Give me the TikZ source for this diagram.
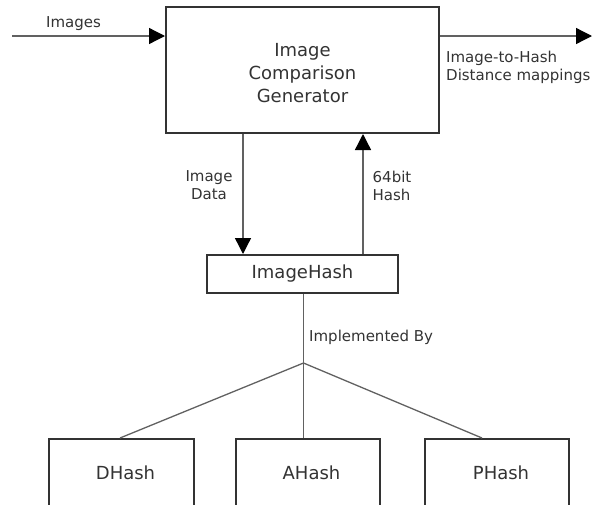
\documentclass[tikz,border=0pt]{standalone}
\usepackage{fontspec}
\setmainfont{DejaVu Sans}
\usetikzlibrary{arrows.meta}
\definecolor{boxline}{rgb}{0.2,0.2,0.2}
\definecolor{conncol}{rgb}{0.38,0.38,0.38}
\definecolor{txt}{rgb}{0.2,0.2,0.2}
\begin{document}
\begin{tikzpicture}[x=1pt,y=-1pt,
  blockbox/.style={draw=boxline, line width=2pt, inner sep=0pt, text=txt,
    font=\fontsize{18}{23}\selectfont, align=center},
  lbl/.style={inner sep=0pt, text=txt, font=\fontsize{15}{18.5}\selectfont},
  link/.style={draw=conncol, line width=1.3pt},
  flow/.style={link, -{Triangle[length=16pt,width=16pt,color=black]}}]
\useasboundingbox (0,0) rectangle (592,504);
\clip (0,0) rectangle (592,504);

% boxes
\node[blockbox, minimum width=273pt, minimum height=126pt] (gen) at (302.5,70)
  {\rule{0pt}{19.1pt}Image\\Comparison\\Generator};
\node[blockbox, minimum width=191pt, minimum height=38pt] (hash) at (302.5,274) {ImageHash};
\node[blockbox, minimum width=145pt, minimum height=67pt] (dh) at (121.5,472.5) {\hspace*{8pt}DHash};
\node[blockbox, minimum width=144pt, minimum height=67pt] (ah) at (308,472.5) {\hspace*{7pt}AHash};
\node[blockbox, minimum width=144pt, minimum height=67pt] (ph) at (497,472.5) {\hspace*{8pt}PHash};

% helper coordinates
\coordinate (inL) at (12,36);
\coordinate (outR) at (592,36);
\coordinate (downx) at (243,0);
\coordinate (upx) at (363,0);
\coordinate (j) at (303.5,363);
\coordinate (dj) at (120,0);
\coordinate (pj) at (482,0);

% connectors
\draw[flow] (inL) -- (inL -| gen.west);
\draw[flow] (outR -| gen.east) -- (outR);
\draw[flow] (downx |- gen.south) -- (downx |- hash.north);
\draw[flow] (upx |- hash.north) -- (upx |- gen.south);
\draw[link] (hash.south -| j) -- (j);
\draw[link] (j) -- (dj |- dh.north);
\draw[link] (j) -- (j |- ah.north);
\draw[link] (j) -- (pj |- ph.north);

% labels
\node[lbl, anchor=base] (limg) at (73.5,27) {Images};
\node[lbl, anchor=north west, align=left] (lout) at (446,50.6) {Image-to-Hash\\Distance mappings};
\node[lbl, anchor=north, align=center] (ldata) at (209,170.1) {Image\\Data};
\node[lbl, anchor=north west, align=left] (lhash) at (372.5,170.6) {64bit\\Hash};
\node[lbl, anchor=base west] (limpl) at (309,341) {Implemented By};
\end{tikzpicture}
\end{document}
